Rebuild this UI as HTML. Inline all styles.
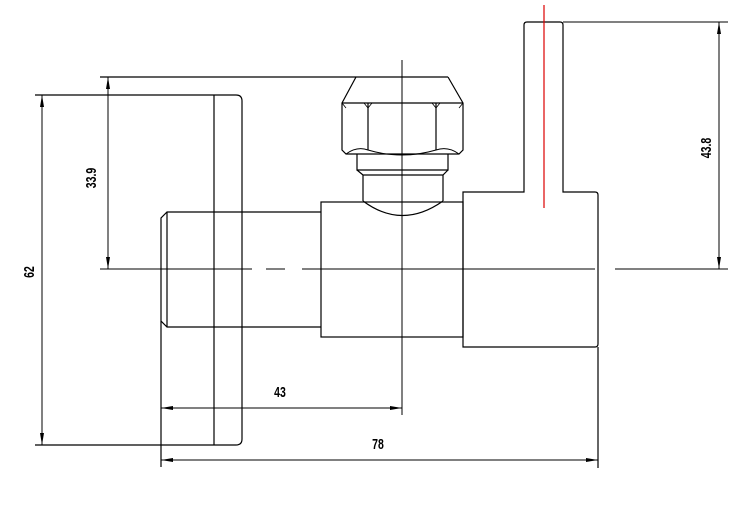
<!DOCTYPE html>
<html><head><meta charset="utf-8"><style>
html,body{margin:0;padding:0;background:#fff;}
svg{display:block}
text{font-family:"Liberation Sans Narrow","Liberation Sans",sans-serif;font-weight:bold;font-size:15px;fill:#000}
</style></head><body>
<svg width="743" height="525" viewBox="0 0 743 525" xmlns="http://www.w3.org/2000/svg">
<defs>
<marker id="a" viewBox="0 0 12 4" refX="12" refY="2" markerWidth="12" markerHeight="4" orient="auto-start-reverse" markerUnits="userSpaceOnUse"><path d="M0,0 L12,2 L0,4 Z" fill="#000"/></marker>
</defs>
<g fill="none" stroke="#000" stroke-width="1.2">
<path d="M35,95 H236 Q242,95 242,101 V439 Q242,445 236,445 H35"/>
<line x1="214" y1="95" x2="214" y2="445"/>
<path d="M321,212 H167 L161,218 V321 L167,327 H321"/>
<line x1="167" y1="212" x2="167" y2="327"/>
<line x1="161" y1="321" x2="161" y2="467"/>
<rect x="321" y="202" width="142" height="135"/>
<path d="M100,77 H448 M356,77 L342,103 V150 L346,154 H459 L463,150 V103 L448,77"/>
<line x1="342" y1="103" x2="463" y2="103"/>
<path d="M368,103 V150 M436,103 V150"/>
<path d="M342,103 L346,108 M368,108 L364,103 M368,108 L372,103 M436,108 L432,103 M436,108 L440,103 M463,103 L459,108" stroke-width="0.8"/>
<path d="M346,154 Q357,146 368,150 Q402,160 436,150 Q448,146 459,154" stroke-width="1"/>
<path d="M357,154 V170 H448 V154"/>
<path d="M357,170 L363,175 H443 L448,170"/>
<path d="M363,175 V201 M443,175 V201"/>
<path d="M363,201 Q402,230 443,201"/>
<path d="M463,192 H524 V25 Q524,22 527,22 H560 Q563,22 563,25 V192 H595 Q598,192 598,195 V344 Q598,347 595,347 H463 Z"/>
<line x1="598" y1="347" x2="598" y2="468"/>
<line x1="402" y1="60" x2="402" y2="415" stroke-width="1"/>
<path d="M100,269 H252 M266,269 H285 M302,269 H595 M615,269 H728" stroke-width="1"/>
<line x1="563" y1="22" x2="728" y2="22" stroke-width="1"/>
<line x1="42" y1="95" x2="42" y2="445" marker-start="url(#a)" marker-end="url(#a)" stroke-width="1"/>
<line x1="108" y1="77" x2="108" y2="269" marker-start="url(#a)" marker-end="url(#a)" stroke-width="1"/>
<line x1="719" y1="22" x2="719" y2="269" marker-start="url(#a)" marker-end="url(#a)" stroke-width="1"/>
<line x1="161" y1="408" x2="402" y2="408" marker-start="url(#a)" marker-end="url(#a)" stroke-width="1"/>
<line x1="161" y1="460" x2="598" y2="460" marker-start="url(#a)" marker-end="url(#a)" stroke-width="1"/>
</g>
<line x1="544" y1="5" x2="544" y2="208" stroke="#d00" stroke-width="1.2"/>
<text transform="translate(280,397) scale(0.7,1)" text-anchor="middle">43</text>
<text transform="translate(378,449) scale(0.7,1)" text-anchor="middle">78</text>
<text transform="translate(34,272) rotate(-90) scale(0.7,1)" text-anchor="middle">62</text>
<text transform="translate(96,178) rotate(-90) scale(0.7,1)" text-anchor="middle">33.9</text>
<text transform="translate(711,148) rotate(-90) scale(0.7,1)" text-anchor="middle">43.8</text>
</svg>
</body></html>
